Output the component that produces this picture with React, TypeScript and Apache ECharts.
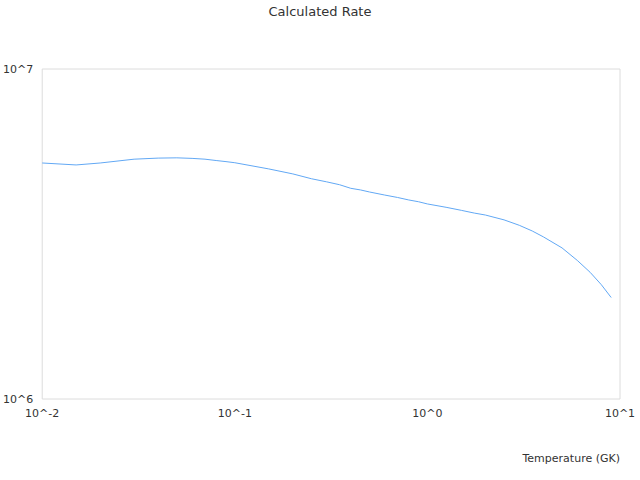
import React, { useEffect, useRef } from "react";
import * as echarts from "echarts";

const temperatures = [
  0.01, 0.015, 0.02, 0.03, 0.04, 0.05, 0.06, 0.07, 0.08, 0.09, 0.1, 0.15, 0.2,
  0.25, 0.3, 0.35, 0.4, 0.45, 0.5, 0.6, 0.7, 0.8, 0.9, 1, 1.25, 1.5, 1.75, 2,
  2.5, 3, 3.5, 4, 5, 6, 7, 8, 9,
];
const rates = [
  5.19e6, 5.12e6, 5.19e6, 5.33e6, 5.37e6, 5.38e6, 5.36e6, 5.33e6, 5.28e6,
  5.24e6, 5.20e6, 4.98e6, 4.81e6, 4.65e6, 4.55e6, 4.46e6, 4.35e6, 4.30e6,
  4.24e6, 4.15e6, 4.08e6, 4.01e6, 3.96e6, 3.90e6, 3.81e6, 3.73e6, 3.66e6,
  3.61e6, 3.49e6, 3.36e6, 3.23e6, 3.10e6, 2.87e6, 2.63e6, 2.42e6, 2.22e6,
  2.03e6,
];
const xTickLabels: Record<string, string> = {
  "0.01": "10^-2",
  "0.1": "10^-1",
  "1": "10^0",
  "10": "10^1",
};
const yTickLabels: Record<string, string> = {
  "1000000": "10^6",
  "10000000": "10^7",
};

const FONT = "DejaVu Sans";

export default function App() {
  const ref = useRef<HTMLDivElement>(null);
  useEffect(() => {
    if (!ref.current) return;
    const chart = echarts.init(ref.current, undefined, { renderer: "svg" });
    chart.setOption({
      animation: false,
      title: {
        text: "Calculated Rate",
        left: "center",
        top: 0,
        textStyle: { fontFamily: FONT, fontSize: 13, fontWeight: "normal", color: "#333" },
      },
      grid: {
        left: 40,
        right: 20,
        top: 69,
        bottom: 81,
        show: true,
        borderColor: "#dcdcdc",
        borderWidth: 1,
        containLabel: false,
      },
      xAxis: {
        type: "log",
        logBase: 10,
        min: 0.01,
        max: 10,
        name: "Temperature (GK)",
        nameLocation: "end",
        nameGap: 0,
        nameTextStyle: {
          fontFamily: FONT,
          fontSize: 11,
          color: "#333",
          align: "right",
          verticalAlign: "top",
          padding: [54, 0, 0, 0],
        },
        axisLine: { show: false },
        axisTick: { show: false },
        splitLine: { show: false },
        minorSplitLine: { show: false },
        axisLabel: {
          fontFamily: FONT,
          fontSize: 11,
          color: "#333",
          margin: 9,
          formatter: (v: number) => xTickLabels[String(Number(v.toPrecision(6)))] ?? "",
        },
      },
      yAxis: {
        type: "log",
        logBase: 10,
        min: 1e6,
        max: 1e7,
        axisLine: { show: false },
        axisTick: { show: false },
        splitLine: { show: false },
        axisLabel: {
          fontFamily: FONT,
          fontSize: 11,
          color: "#333",
          margin: 9,
          formatter: (v: number) => yTickLabels[String(Math.round(v))] ?? "",
        },
      },
      series: [
        {
          type: "line",
          data: temperatures.map((t, i) => [t, rates[i]]),
          showSymbol: false,
          symbol: "none",
          smooth: false,
          lineStyle: { color: "#62a8f4", width: 1 },
        },
      ],
    });
    return () => chart.dispose();
  }, []);
  return <div ref={ref} style={{ width: 640, height: 480, position: "absolute", left: 0, top: 0 }} />;
}
